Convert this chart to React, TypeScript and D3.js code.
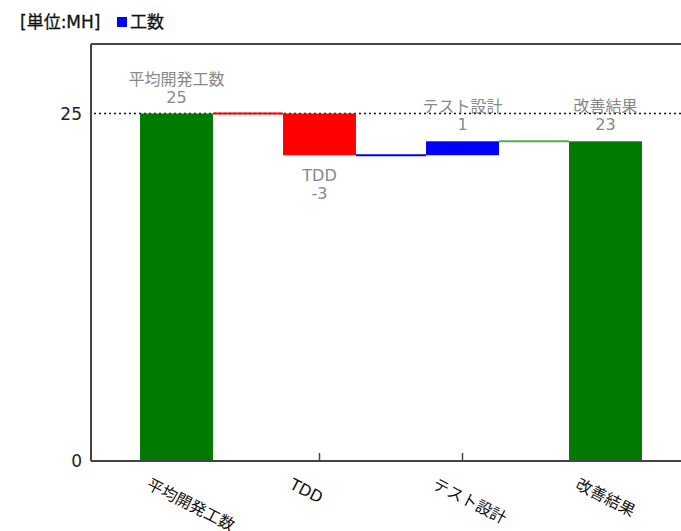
import React from 'react';
import * as d3 from 'd3';

const width = 681;
const height = 531;

const categories = ['平均開発工数', 'TDD', 'テスト設計', '改善結果'];
const values = [25, -3, 1, 23];
const isTotal = [true, false, false, true];
const yTicks = [0, 25];
const refLine = 25;

const plotLeft = 91;
const plotTop = 44;
const plotBottom = 461;

const green = '#007a00';
const red = '#ff0000';
const blue = '#0000ff';
const labelFont = '"DejaVu Sans", "Noto Sans CJK JP", sans-serif';

const x = d3.scaleBand<string>()
  .domain(categories)
  .range([105, 677])
  .paddingInner(0.49)
  .paddingOuter(0.245);

const y = d3.scaleLinear().domain([0, 30]).range([plotBottom, plotTop]);

// running totals for waterfall
const bars = (() => {
  let run = 0;
  return categories.map((c, i) => {
    const v = values[i];
    let start, end;
    if (isTotal[i]) {
      start = 0;
      end = v;
      run = v;
    } else {
      start = run;
      end = run + v;
      run = end;
    }
    const color = isTotal[i] ? green : v < 0 ? red : blue;
    return { c, v, start, end, color };
  });
})();

const App = () => {
  const bw = x.bandwidth();
  return (
    <svg width={width} height={height} style={{ position: 'absolute', left: 0, top: 0 }}>
      <rect width={width} height={height} fill="white" />

      {/* legend */}
      <text x={20} y={28} fontSize={17} fill="#111" stroke="#111" strokeWidth={0.3} fontFamily={labelFont}>[単位:MH]</text>
      <rect x={117} y={17} width={10} height={10} fill={blue} />
      <text x={130} y={28} fontSize={17} fill="#111" stroke="#111" strokeWidth={0.3} fontFamily={labelFont}>工数</text>

      {/* x ticks */}
      {categories.map(c => (
        <line key={c} x1={x(c)! + bw / 2} x2={x(c)! + bw / 2} y1={plotBottom} y2={plotBottom - 8} stroke="#444" strokeWidth={1.5} />
      ))}

      {/* reference dotted line */}
      <line x1={plotLeft + 3} x2={width} y1={y(refLine)} y2={y(refLine)} stroke="#111" strokeWidth={1.5} strokeDasharray="2,3" />

      {/* connectors */}
      {bars.slice(1).map((b, i) => {
        const prev = bars[i];
        const level = prev.end;
        return (
          <line key={b.c} x1={x(prev.c)! + bw} x2={x(b.c)!} y1={y(level)} y2={y(level)}
            stroke={b.color === green ? '#55aa55' : b.color} strokeWidth={2} />
        );
      })}

      {/* bars */}
      {bars.map(b => (
        <rect key={b.c} x={x(b.c)} width={bw}
          y={y(Math.max(b.start, b.end))}
          height={Math.abs(y(b.start) - y(b.end))}
          fill={b.color} />
      ))}

      {/* bar labels */}
      {bars.map(b => {
        const cx = x(b.c)! + bw / 2;
        if (b.v < 0) {
          const bottom = y(b.end);
          return (
            <g key={b.c} fill="#888" fontSize={16} fontFamily={labelFont} textAnchor="middle">
              <text x={cx} y={bottom + 26}>{b.c}</text>
              <text x={cx} y={bottom + 44}>{b.v}</text>
            </g>
          );
        }
        const top = y(Math.max(b.start, b.end));
        return (
          <g key={b.c} fill="#888" fontSize={16} fontFamily={labelFont} textAnchor="middle">
            <text x={cx} y={top - 29}>{b.c}</text>
            <text x={cx} y={top - 11}>{b.v}</text>
          </g>
        );
      })}

      {/* frame / axes */}
      <line x1={plotLeft} x2={width} y1={plotTop} y2={plotTop} stroke="#444" strokeWidth={2} />
      <line x1={plotLeft} x2={plotLeft} y1={plotTop} y2={plotBottom} stroke="#444" strokeWidth={2} />
      <line x1={plotLeft} x2={width} y1={plotBottom} y2={plotBottom} stroke="#444" strokeWidth={2} />

      {/* y tick labels */}
      {yTicks.map(t => (
        <text key={t} x={plotLeft - 9} y={y(t) + 6} textAnchor="end" fontSize={17} fill="#222" fontFamily={labelFont}>{t}</text>
      ))}

      {/* category labels */}
      {categories.map(c => (
        <text key={c} transform={`translate(${x(c)! + bw / 2 - 31},${488}) rotate(27)`}
          fontSize={16} fill="#111" fontFamily={labelFont}>{c}</text>
      ))}
    </svg>
  );
};

export default App;
